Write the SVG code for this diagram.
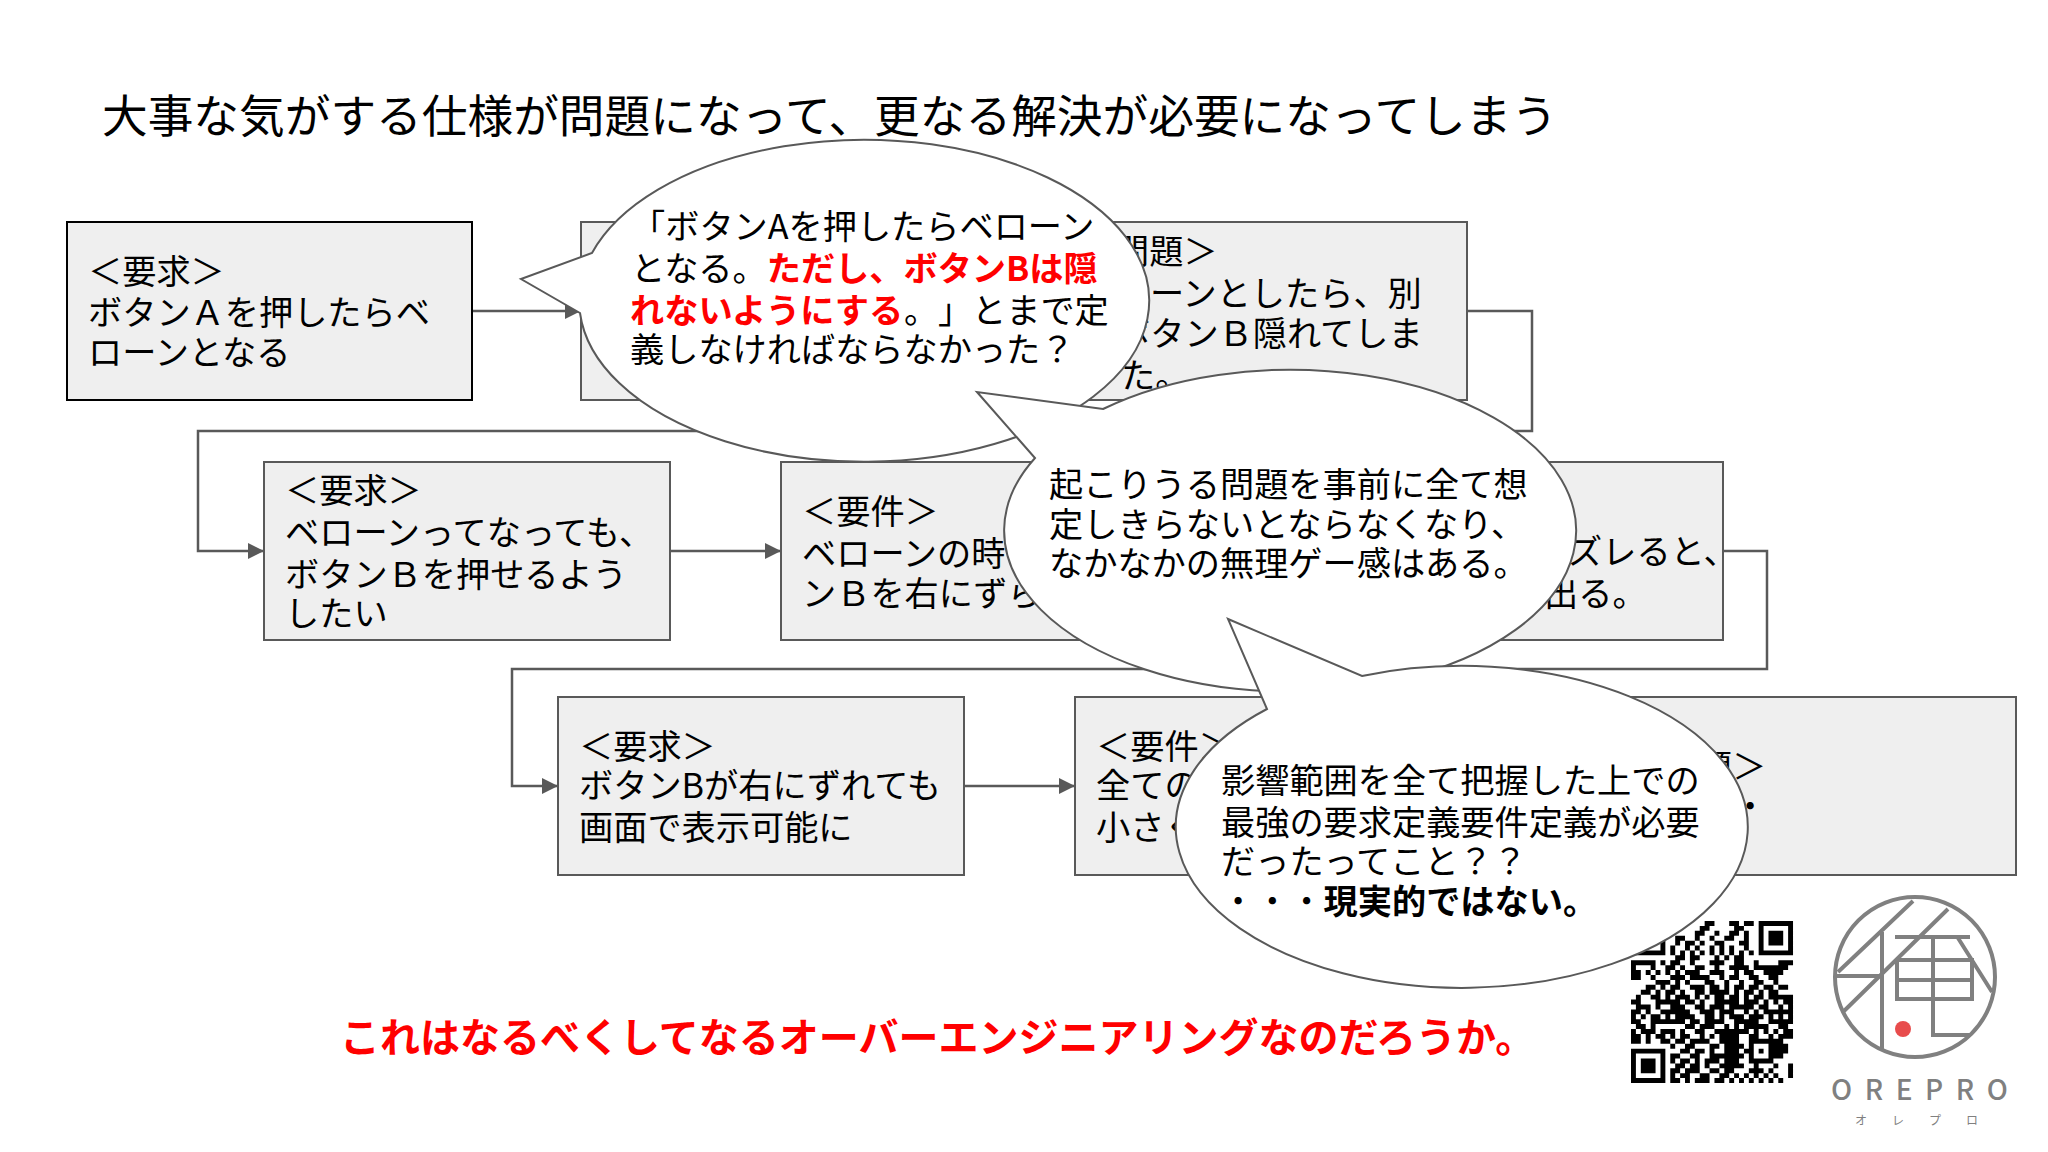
<svg xmlns="http://www.w3.org/2000/svg" width="2048" height="1152" viewBox="0 0 2048 1152">
<style>
text{font-family:"Noto Sans CJK JP","Noto Sans",sans-serif;fill:#000;font-feature-settings:"chws" 0,"palt" 0}
.t{font-size:34.2px}
.title{font-size:45.7px}
.box{fill:#efefef;stroke:#595959;stroke-width:2}
.b1{stroke:#000}
.bub{fill:#fff;stroke:#595959;stroke-width:2}
.con{fill:none;stroke:#595959;stroke-width:2.5}
.red{fill:#f00;font-weight:700}
.bd{font-weight:700}
.lg{fill:none;stroke:#808080;stroke-width:4}
</style>
<defs><marker id="arr" markerUnits="userSpaceOnUse" markerWidth="18" markerHeight="16" refX="16" refY="8" orient="auto"><path d="M0 0L16 8L0 16Z" fill="#595959"/></marker></defs>
<rect width="2048" height="1152" fill="#fff"/>
<text class="title" x="102" y="133">大事な気がする仕様が問題になって、更なる解決が必要になってしまう</text>
<g id="connectors">
<path class="con" marker-end="url(#arr)" d="M472 311H581"/>
<path class="con" marker-end="url(#arr)" d="M1467 311H1532V431H198V551H264"/>
<path class="con" marker-end="url(#arr)" d="M670 551H781"/>
<path class="con" marker-end="url(#arr)" d="M1723 551H1767V669H512V786H558"/>
<path class="con" marker-end="url(#arr)" d="M964 786H1075"/>
</g>
<g id="n1"><rect class="box b1" x="67" y="222" width="405" height="178"/><text class="t" x="88"><tspan x="88" y="284">＜要求＞</tspan><tspan x="88" y="325">ボタンＡを押したらベ</tspan><tspan x="88" y="365">ローンとなる</tspan></text></g>
<g id="n2"><rect class="box" x="581" y="222" width="405" height="178"/></g>
<g id="n3"><rect class="box" x="1062" y="222" width="405" height="178"/><text class="t"><tspan x="1115" y="264">問題＞</tspan><tspan x="1150" y="306">ーンとしたら、別</tspan><tspan x="1116" y="346">ボタンＢ隠れてしま</tspan><tspan x="1121" y="388">た。</tspan></text></g>
<g id="n4"><rect class="box" x="264" y="462" width="406" height="178"/><text class="t"><tspan x="285" y="503">＜要求＞</tspan><tspan x="285" y="545">ベローンってなっても、</tspan><tspan x="285" y="587">ボタンＢを押せるよう</tspan><tspan x="285" y="626">したい</tspan></text></g>
<g id="n5"><rect class="box" x="781" y="462" width="406" height="178"/><text class="t"><tspan x="802" y="524">＜要件＞</tspan><tspan x="802" y="566">ベローンの時</tspan><tspan x="802" y="606">ンＢを右にずら</tspan></text></g>
<g id="n6"><rect class="box" x="1317" y="462" width="406" height="178"/><text class="t"><tspan x="1568" y="564">ズレると、</tspan><tspan x="1544" y="606">出る。</tspan></text></g>
<g id="n7"><rect class="box" x="558" y="697" width="406" height="178"/><text class="t"><tspan x="579" y="759">＜要求＞</tspan><tspan x="579" y="798">ボタンBが右にずれても</tspan><tspan x="579" y="840">画面で表示可能に</tspan></text></g>
<g id="n8"><rect class="box" x="1075" y="697" width="406" height="178"/><text class="t"><tspan x="1096" y="759">＜要件＞</tspan><tspan x="1096" y="798">全ての</tspan><tspan x="1096" y="840">小さく</tspan></text></g>
<g id="n9"><rect class="box" x="1611" y="697" width="405" height="178"/><text class="t"><tspan x="1698" y="779">題＞</tspan><tspan x="1733" y="819">・</tspan></text></g>
<text id="conclusion" class="red" font-size="40" x="340" y="1052">これはなるべくしてなるオーバーエンジニアリングなのだろうか。</text>
<g id="qr" transform="translate(1631 921) scale(4.91)"><path fill="none" stroke="#000" stroke-width="1" d="M0 .5h7M15 .5h2M20 .5h2M23 .5h2M26 .5h7M0 1.5h1M6 1.5h1M14 1.5h2M21 1.5h2M26 1.5h1M32 1.5h1M0 2.5h1M2 2.5h3M6 2.5h1M13 2.5h2M17 2.5h1M20 2.5h2M23 2.5h1M26 2.5h1M28 2.5h3M32 2.5h1M0 3.5h1M2 3.5h3M6 3.5h1M9 3.5h2M13 3.5h1M16 3.5h1M19 3.5h2M23 3.5h1M26 3.5h1M28 3.5h3M32 3.5h1M0 4.5h1M2 4.5h3M6 4.5h1M9 4.5h1M11 4.5h2M14 4.5h1M17 4.5h2M22 4.5h2M26 4.5h1M28 4.5h3M32 4.5h1M0 5.5h1M6 5.5h1M8 5.5h1M11 5.5h1M13 5.5h1M16 5.5h1M18 5.5h1M20 5.5h1M23 5.5h1M26 5.5h1M32 5.5h1M0 6.5h7M8 6.5h1M10 6.5h1M12 6.5h1M14 6.5h1M16 6.5h1M18 6.5h1M20 6.5h1M22 6.5h1M24 6.5h1M26 6.5h7M9 7.5h2M12 7.5h2M17 7.5h1M19 7.5h1M21 7.5h2M0 8.5h5M6 8.5h1M8 8.5h2M12 8.5h1M16 8.5h3M21 8.5h2M25 8.5h1M30 8.5h3M0 9.5h1M4 9.5h1M7 9.5h2M10 9.5h1M13 9.5h2M17 9.5h1M20 9.5h4M25 9.5h7M0 10.5h2M3 10.5h1M5 10.5h1M7 10.5h1M9 10.5h1M11 10.5h3M16 10.5h3M21 10.5h1M23 10.5h2M27 10.5h4M0 11.5h2M4 11.5h1M8 11.5h3M12 11.5h4M18 11.5h1M20 11.5h2M24 11.5h2M28 11.5h2M5 12.5h3M9 12.5h1M11 12.5h1M15 12.5h2M19 12.5h1M22 12.5h1M25 12.5h2M29 12.5h1M3 13.5h2M6 13.5h1M8 13.5h2M12 13.5h3M16 13.5h2M19 13.5h1M21 13.5h2M24 13.5h2M27 13.5h2M30 13.5h2M2 14.5h2M5 14.5h1M7 14.5h2M10 14.5h1M13 14.5h2M16 14.5h4M21 14.5h1M23 14.5h2M26 14.5h1M28 14.5h2M1 15.5h1M4 15.5h2M7 15.5h1M9 15.5h3M13 15.5h1M15 15.5h1M17 15.5h2M20 15.5h2M23 15.5h1M25 15.5h2M28 15.5h5M0 16.5h2M5 16.5h5M11 16.5h2M14 16.5h1M17 16.5h5M23 16.5h3M27 16.5h1M29 16.5h1M31 16.5h2M1 17.5h3M5 17.5h1M8 17.5h3M13 17.5h2M16 17.5h3M20 17.5h5M26 17.5h2M30 17.5h1M32 17.5h1M0 18.5h2M3 18.5h1M6 18.5h6M14 18.5h3M18 18.5h3M23 18.5h1M25 18.5h1M27 18.5h6M0 19.5h1M2 19.5h1M4 19.5h2M7 19.5h1M9 19.5h4M15 19.5h2M18 19.5h1M20 19.5h3M24 19.5h3M28 19.5h1M30 19.5h1M32 19.5h1M0 20.5h2M4 20.5h7M12 20.5h2M15 20.5h4M21 20.5h5M28 20.5h5M1 21.5h2M4 21.5h1M11 21.5h2M14 21.5h3M19 21.5h1M21 21.5h1M23 21.5h5M30 21.5h2M0 22.5h1M2 22.5h3M6 22.5h3M10 22.5h1M13 22.5h2M17 22.5h7M25 22.5h1M27 22.5h1M29 22.5h1M31 22.5h2M0 23.5h2M3 23.5h1M5 23.5h2M8 23.5h1M10 23.5h2M14 23.5h1M16 23.5h1M18 23.5h4M24 23.5h2M28 23.5h1M30 23.5h3M0 24.5h2M3 24.5h1M6 24.5h2M9 24.5h2M12 24.5h4M18 24.5h4M24 24.5h7M8 25.5h1M11 25.5h2M16 25.5h2M19 25.5h4M24 25.5h1M28 25.5h4M0 26.5h7M10 26.5h2M13 26.5h2M16 26.5h1M19 26.5h3M23 26.5h2M26 26.5h1M28 26.5h4M0 27.5h1M6 27.5h1M8 27.5h2M12 27.5h2M16 27.5h7M24 27.5h1M28 27.5h3M0 28.5h1M2 28.5h3M6 28.5h1M8 28.5h1M10 28.5h2M13 28.5h1M15 28.5h3M19 28.5h3M24 28.5h5M0 29.5h1M2 29.5h3M6 29.5h1M9 29.5h2M12 29.5h2M15 29.5h1M18 29.5h5M25 29.5h1M29 29.5h1M32 29.5h1M0 30.5h1M2 30.5h3M6 30.5h1M8 30.5h2M11 30.5h3M16 30.5h2M19 30.5h2M24 30.5h3M28 30.5h1M32 30.5h1M0 31.5h1M6 31.5h1M8 31.5h1M10 31.5h2M14 31.5h2M18 31.5h2M21 31.5h1M23 31.5h1M25 31.5h1M27 31.5h1M29 31.5h1M32 31.5h1M0 32.5h7M8 32.5h2M11 32.5h1M13 32.5h3M17 32.5h2M20 32.5h1M22 32.5h1M24 32.5h1M26 32.5h1M28 32.5h1M30 32.5h1"/></g>
<g id="logo">
<circle class="lg" cx="1915" cy="977" r="80"/>
<path class="lg" d="M1913 901L1838 972M1835 976H1882M1882 932V1050M1948 909L1843 1012M1895 937H1970M1958 938L1992 992M1897 960H1972V999H1897ZM1897 980H1972M1933 937V1035H1970"/>
<circle cx="1903" cy="1029" r="8" fill="#e84c4c"/>
<text x="1831" y="1100" font-size="28" letter-spacing="12.6" style="fill:#808080;font-weight:500">OREPRO</text>
<text x="1855" y="1125" font-size="12" letter-spacing="25" style="fill:#808080">オレプロ</text>
</g>
<g id="bubble1"><path class="bub" d="M592 253A285 161 0 1 1 580 313L521 279Z"/><text class="t"><tspan x="631" y="239">「ボタンAを押したらベローン</tspan><tspan x="631" y="281">となる。</tspan><tspan class="red">ただし、ボタンBは隠</tspan><tspan x="630" y="323" class="red">れないようにする</tspan><tspan x="904">。</tspan><tspan x="938">」</tspan><tspan x="972">とまで定</tspan><tspan x="630" y="362">義しなければならなかった？</tspan></text></g>
<g id="bubble2"><path class="bub" d="M1102 409A286 161 0 1 1 1034 458L976 392Z" transform="translate(1 0)"/><text class="t"><tspan x="1049" y="497">起こりうる問題を事前に全て想</tspan><tspan x="1049" y="537">定しきらないとならなくなり、</tspan><tspan x="1049" y="576">なかなかの無理ゲー感はある。</tspan></text></g>
<g id="bubble3"><path class="bub" d="M1362 676A286 161 0 1 1 1267 709L1228 619Z"/><text class="t"><tspan x="1221" y="793">影響範囲を全て把握した上での</tspan><tspan x="1221" y="835">最強の要求定義要件定義が必要</tspan><tspan x="1221" y="874">だったってこと？？</tspan><tspan x="1221" y="914">・・・</tspan><tspan class="bd">現実的ではない。</tspan></text></g>
</svg>
